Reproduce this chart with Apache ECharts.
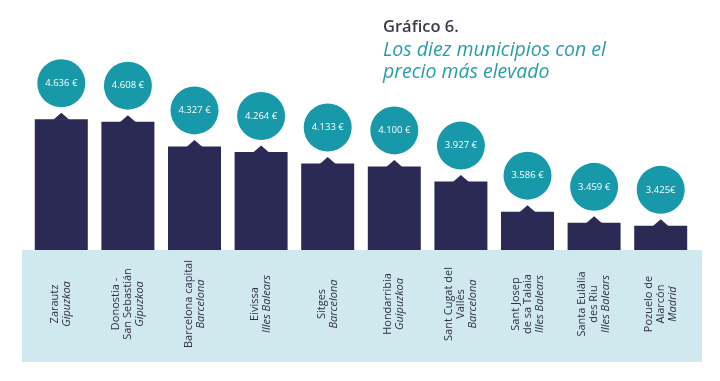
<!DOCTYPE html>
<html>
<head>
<meta charset="utf-8">
<script src="https://cdn.jsdelivr.net/npm/echarts@6/dist/echarts.min.js"></script>
<style>
html,body{margin:0;padding:0;background:#ffffff;}
#chart{width:720px;height:381px;}
</style>
</head>
<body>
<div id="chart"></div>
<script>
var municipios = ['Zarautz', 'Donostia -\nSan Sebastián', 'Barcelona capital', 'Eivissa', 'Sitges', 'Hondarribia', 'Sant Cugat del\nVallès', 'Sant Josep\nde sa Talaia', 'Santa Eulàlia\ndes Riu', 'Pozuelo de\nAlarcón'];
var provincias = ['Gipuzkoa', 'Gipuzkoa', 'Barcelona', 'Illes Balears', 'Barcelona', 'Guipuzkoa', 'Barcelona', 'Illes Balears', 'Illes Balears', 'Madrid'];
var precios = [4636, 4608, 4327, 4264, 4133, 4100, 3927, 3586, 3459, 3425];
var etiquetas = ['4.636 €', '4.608 €', '4.327 €', '4.264 €', '4.133 €', '4.100 €', '3.927 €', '3.586 €', '3.459 €', '3.425€'];

var categorias = municipios.map(function (m, i) { return String(i); });

var chart = echarts.init(document.getElementById('chart'));
var FONT = '"Open Sans", "Noto Sans", sans-serif';
var NAVY = '#2b2a55';
var TEAL = '#1799aa';

chart.setOption({
  animation: false,
  backgroundColor: '#ffffff',
  title: [
    {
      text: 'Gráfico 6.',
      left: 378, top: 14,
      textStyle: { fontFamily: FONT, fontSize: 16.5, fontWeight: 600, color: '#3b3b48' }
    },
    {
      text: 'Los diez municipios con el\nprecio más elevado',
      left: 378, top: 34,
      textStyle: { fontFamily: FONT, fontSize: 19.5, fontStyle: 'italic', fontWeight: 'normal', color: '#2a9bab', lineHeight: 22 }
    }
  ],
  graphic: [
    {
      type: 'rect', z: -10,
      shape: { x: 22, y: 250, width: 680, height: 112 },
      style: { fill: '#cfe9ef' }
    }
  ],
  grid: { left: 28, right: 26, top: 30, bottom: 131, containLabel: false },
  xAxis: {
    type: 'category',
    data: categorias,
    axisLine: { show: false },
    axisTick: { show: false },
    axisLabel: {
      interval: 0,
      rotate: 90,
      align: 'center',
      verticalAlign: 'middle',
      margin: 54,
      formatter: function (v) {
        var i = +v;
        var lines = municipios[i].split('\n').map(function (l) { return '{a|' + l + '}'; });
        lines.push('{b|' + provincias[i] + '}');
        return lines.join('\n');
      },
      rich: {
        a: { fontFamily: FONT, fontSize: 11, color: '#2f2f45', lineHeight: 12, align: 'center' },
        b: { fontFamily: FONT, fontSize: 11, fontStyle: 'italic', color: '#2f2f45', lineHeight: 12, align: 'center' }
      }
    }
  },
  yAxis: {
    type: 'value',
    min: 3150, max: 5650,
    show: false,
    splitLine: { show: false }
  },
  series: [
    {
      type: 'bar',
      data: precios,
      barWidth: 53,
      itemStyle: { color: NAVY },
      z: 2
    },
    {
      type: 'scatter',
      data: precios,
      symbol: 'triangle',
      symbolSize: [16, 7],
      symbolOffset: [0, -3],
      itemStyle: { color: NAVY, opacity: 1 },
      z: 3,
      silent: true
    },
    {
      type: 'scatter',
      data: precios,
      symbol: 'circle',
      symbolSize: 48,
      symbolOffset: [0, -36],
      itemStyle: { color: TEAL, opacity: 1 },
      z: 4,
      label: {
        show: true,
        position: 'inside',
        formatter: function (p) { return etiquetas[p.dataIndex]; },
        fontFamily: FONT,
        fontSize: 9.5,
        color: '#ffffff'
      }
    }
  ]
});
</script>
</body>
</html>
